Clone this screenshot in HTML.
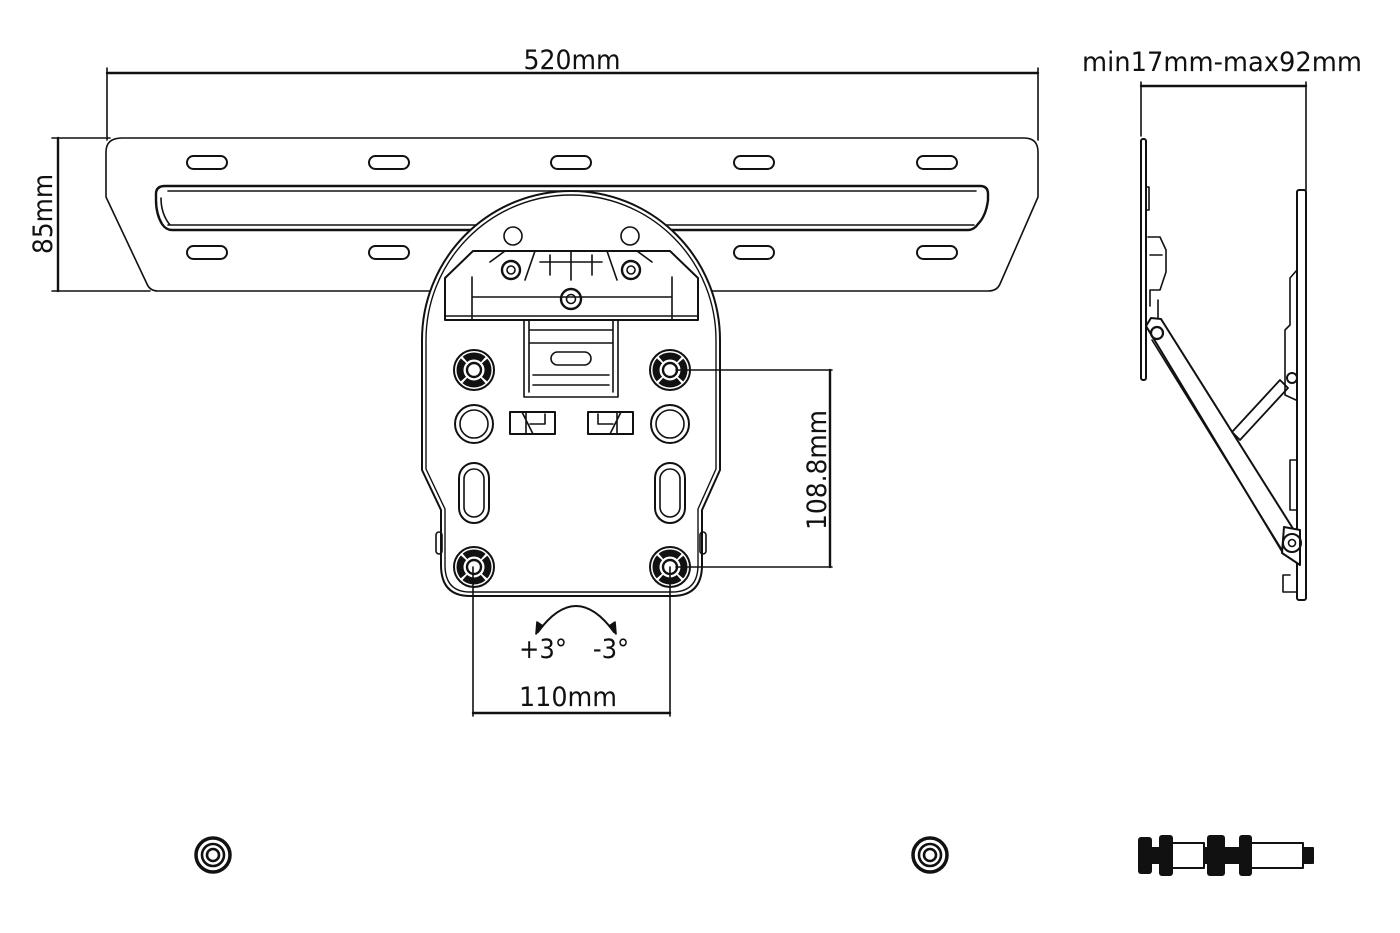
<!DOCTYPE html>
<html><head><meta charset="utf-8"><style>
html,body{margin:0;padding:0;background:#fff}
svg{display:block}
text{font-family:"DejaVu Sans Condensed","DejaVu Sans","Liberation Sans",sans-serif;fill:#111}
</style></head><body>
<svg width="1400" height="933" viewBox="0 0 1400 933" xmlns="http://www.w3.org/2000/svg" fill="none" stroke="#111" stroke-width="1.6" stroke-linejoin="round" stroke-linecap="round">
<!-- 520 dim -->
<line x1="107" y1="68" x2="107" y2="140"/><line x1="1038" y1="68" x2="1038" y2="140"/>
<line x1="107" y1="73" x2="1038" y2="73" stroke-width="2.4"/>
<text x="572" y="69" font-size="27" text-anchor="middle" stroke="none" textLength="97" lengthAdjust="spacingAndGlyphs">520mm</text>
<!-- 85 dim -->
<line x1="52" y1="138" x2="110" y2="138"/><line x1="52" y1="291" x2="150" y2="291"/>
<line x1="58" y1="138" x2="58" y2="291" stroke-width="2.4"/>
<text transform="translate(52,214) rotate(-90)" font-size="27" text-anchor="middle" stroke="none" textLength="80" lengthAdjust="spacingAndGlyphs">85mm</text>
<!-- bar -->
<path d="M122 138 H1024 Q1038 138 1038 152 V197 L1000 284 Q997 291 988 291 H158 Q150 291 147 284 L106 197 V152 Q106 138 122 138 Z"/>
<path d="M165 186 H980 Q988 186 988 194 V200 Q986 216 978 224 Q974 230 968 230 H172 Q166 230 162 224 Q156 214 156 200 V194 Q156 186 165 186 Z" stroke-width="2.4"/>
<path d="M168 191 H976 M168 225 H974 M161 198 Q161 214 170 225" />
<g stroke-width="2">
<rect x="187" y="156" width="40" height="13" rx="6.5"/><rect x="369" y="156" width="40" height="13" rx="6.5"/><rect x="551" y="156" width="40" height="13" rx="6.5"/><rect x="734" y="156" width="40" height="13" rx="6.5"/><rect x="917" y="156" width="40" height="13" rx="6.5"/>
<rect x="187" y="246" width="40" height="13" rx="6.5"/><rect x="369" y="246" width="40" height="13" rx="6.5"/><rect x="734" y="246" width="40" height="13" rx="6.5"/><rect x="917" y="246" width="40" height="13" rx="6.5"/>
</g>
<!-- plate -->
<path d="M422 340 A149 149 0 0 1 720 340 V470 L702 510 V565 Q702 596 672 596 H470 Q441 596 441 565 V510 L422 470 Z" fill="#fff" stroke-width="2"/>
<path d="M426 340 A145 145 0 0 1 716 340 V469 L698 509 V565 Q698 592 672 592 H470 Q445 592 445 565 V509 L426 469 Z" stroke-width="1.4"/>
<rect x="436" y="532" width="6" height="22" rx="3"/><rect x="700" y="532" width="6" height="22" rx="3"/>
<circle cx="513" cy="236" r="9"/><circle cx="630" cy="236" r="9"/>
<!-- bracket -->
<path d="M473 251 H670 L698 278 V320 H445 V278 Z" stroke-width="2"/>
<path d="M472 277 V320 M672 277 V320 M472 297 H672 M445 316 H698"/>
<path d="M490 262 L505 251 M652 262 L637 251 M535 251 L525 280 M607 251 L617 280 M571 251 V280 M540 262 H602 M550 255 V275 M592 255 V275"/>
<circle cx="511" cy="270" r="9" stroke-width="2.4"/><circle cx="511" cy="270" r="4"/>
<circle cx="631" cy="270" r="9" stroke-width="2.4"/><circle cx="631" cy="270" r="4"/>
<circle cx="571" cy="299" r="10" stroke-width="2.4"/><circle cx="571" cy="299" r="4.5"/>
<path d="M524 320 V397 H618 V320 M529 320 V392 M613 320 V392 M529 330 H613 M529 343 H613 M533 375 H609 M533 385 H609"/>
<rect x="551" y="352" width="40" height="13" rx="6.5"/>
<!-- screws -->
<g id="sc">
<circle cx="474" cy="370" r="20" stroke-width="2"/>
<circle cx="474" cy="370" r="14" stroke-width="7"/>
<circle cx="474" cy="370" r="7" stroke-width="2.4"/>
<circle cx="474" cy="370" r="14" stroke="#fff" stroke-width="9" stroke-dasharray="2 20" stroke-dashoffset="-10" stroke-linecap="butt"/>
</g>
<use href="#sc" x="196"/><use href="#sc" y="197"/><use href="#sc" x="196" y="197"/>
<circle cx="474" cy="424" r="19" stroke-width="2"/><circle cx="474" cy="424" r="14"/>
<circle cx="670" cy="424" r="19" stroke-width="2"/><circle cx="670" cy="424" r="14"/>
<rect x="459" y="463" width="30" height="60" rx="15" stroke-width="2"/><rect x="464" y="469" width="20" height="48" rx="10"/>
<rect x="655" y="463" width="30" height="60" rx="15" stroke-width="2"/><rect x="660" y="469" width="20" height="48" rx="10"/>
<rect x="510" y="412" width="45" height="22" stroke-width="2"/><path d="M522 412 L533 434 M526 412 V434 M530 424 H545 V414"/>
<rect x="588" y="412" width="45" height="22" stroke-width="2"/><path d="M621 412 L610 434 M617 412 V434 M613 424 H598 V414"/>
<!-- 108.8 dim -->
<line x1="676" y1="370" x2="832" y2="370"/><line x1="676" y1="567" x2="832" y2="567"/>
<line x1="830" y1="370" x2="830" y2="567" stroke-width="2.4"/>
<text transform="translate(826,470) rotate(-90)" font-size="27" text-anchor="middle" stroke="none" textLength="120" lengthAdjust="spacingAndGlyphs">108.8mm</text>
<!-- 110 dim -->
<line x1="473" y1="567" x2="473" y2="716"/><line x1="670" y1="567" x2="670" y2="716"/>
<line x1="473" y1="713" x2="670" y2="713" stroke-width="2.4"/>
<text x="568" y="706" font-size="27" text-anchor="middle" stroke="none" textLength="98" lengthAdjust="spacingAndGlyphs">110mm</text>
<path d="M538 632 Q576 580 614 632" stroke-width="2"/>
<path d="M536 634 L537 622 L543 626 Z M616 634 L615 622 L609 626 Z" fill="#111"/>
<text x="543" y="658" font-size="27" text-anchor="middle" stroke="none">+3°</text>
<text x="611" y="658" font-size="27" text-anchor="middle" stroke="none">-3°</text>
<!-- side dim -->
<text x="1222" y="71" font-size="27" text-anchor="middle" stroke="none" textLength="280" lengthAdjust="spacingAndGlyphs">min17mm-max92mm</text>
<line x1="1141" y1="82" x2="1141" y2="136"/><line x1="1306" y1="82" x2="1306" y2="190"/>
<line x1="1141" y1="86" x2="1306" y2="86" stroke-width="2.4"/>
<!-- side view -->
<rect x="1141" y="139" width="5" height="241" rx="2" stroke-width="2"/>
<path d="M1146 187 H1149 V210 H1146 M1148 237 H1160 L1166 250 V272 L1160 290 H1150 V306 M1158 300 V320 M1150 255 H1162"/>
<rect x="1297" y="190" width="9" height="410" rx="2" stroke-width="2"/>
<path d="M1297 270 L1290 278 V325 L1285 330 V395 L1296 400 M1297 460 H1290 V510 H1297 M1290 575 H1283 V592 H1297"/>
<path d="M1146 326 L1151 318 L1161 319 L1297 535 L1290 552 L1283 553 Z" fill="#fff" stroke-width="2"/>
<path d="M1152 340 L1282 550"/>
<circle cx="1157" cy="333" r="6" stroke-width="2.2"/>
<path d="M1232 432 L1280 380 L1288 388 L1240 440 Z" stroke-width="1.8"/>
<circle cx="1292" cy="378" r="5" stroke-width="2"/>
<path d="M1284 527 L1300 530 V565 L1282 553 Z" fill="#fff" stroke-width="2"/>
<circle cx="1292" cy="543" r="9" stroke-width="2"/><circle cx="1292" cy="543" r="3.5"/>
<!-- washers -->
<g stroke-width="2.6">
<circle cx="213" cy="855" r="17" stroke-width="3.5"/><circle cx="213" cy="855" r="11"/><circle cx="213" cy="855" r="6"/>
<circle cx="930" cy="855" r="17" stroke-width="3.5"/><circle cx="930" cy="855" r="11"/><circle cx="930" cy="855" r="6"/>
</g>
<!-- bolt -->
<g stroke-width="2">
<rect x="1168" y="843" width="36" height="25"/>
<rect x="1250" y="843" width="53" height="25"/>
<rect x="1303" y="848" width="10" height="15" fill="#111"/>
<rect x="1205" y="848" width="40" height="15" fill="#111"/>
<rect x="1150" y="848" width="10" height="15" fill="#111"/>
</g>
<g fill="#111" stroke="none">
<rect x="1138" y="837" width="14" height="37" rx="3"/>
<rect x="1159" y="835" width="14" height="41" rx="3"/>
<rect x="1207" y="835" width="18" height="41" rx="3"/>
<rect x="1239" y="835" width="13" height="41" rx="3"/>
</g>
</svg>
</body></html>
